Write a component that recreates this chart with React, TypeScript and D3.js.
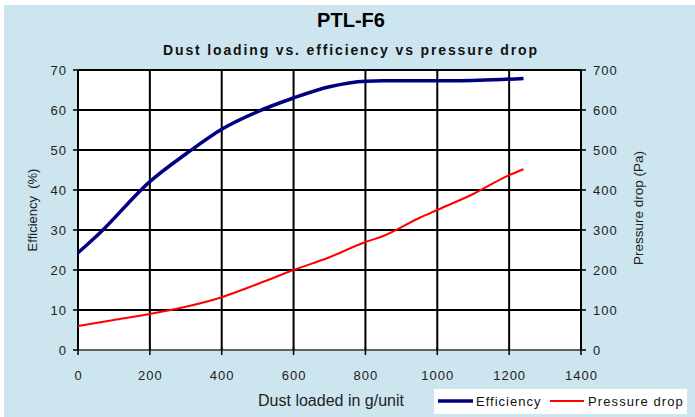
import React from "react";
import * as d3 from "d3";

const effX = [0, 60, 200, 300, 400, 500, 600, 700, 800, 850, 1050, 1240];
const effY = [24.3, 29.2, 42.1, 49.0, 55.2, 59.6, 63.0, 65.8, 67.2, 67.3, 67.3, 67.9];

const presX = [0, 100, 200, 300, 400, 500, 600, 700, 800, 850, 950, 1000, 1100, 1200, 1240];
const presY = [60, 75, 90, 108, 132, 165, 200, 232, 270, 285, 330, 350, 390, 437, 452];

const xTicks = [0, 200, 400, 600, 800, 1000, 1200, 1400];
const yLeftTicks = [0, 10, 20, 30, 40, 50, 60, 70];
const yRightTicks = [0, 100, 200, 300, 400, 500, 600, 700];

const title = "PTL-F6";
const subtitle = "Dust loading vs. efficiency vs pressure drop";
const xTitle = "Dust loaded in g/unit";
const yLeftTitle = "Efficiency  (%)";
const yRightTitle = "Pressure drop (Pa)";
const seriesNames = ["Efficiency", "Pressure drop"];

const W = 695;
const H = 417;
const FONT = "'Liberation Sans', Arial, sans-serif";

export default function App() {
  const x = d3.scaleLinear().domain([0, 1400]).range([78, 581]);
  const yL = d3.scaleLinear().domain([0, 70]).range([350, 70]);
  const yR = d3.scaleLinear().domain([0, 700]).range([350, 70]);

  const effLine = d3
    .line<number>()
    .x((d, i) => x(effX[i]))
    .y((d) => yL(d))
    .curve(d3.curveMonotoneX)(effY) as string;
  const presLine = d3
    .line<number>()
    .x((d, i) => x(presX[i]))
    .y((d) => yR(d))
    .curve(d3.curveMonotoneX)(presY) as string;

  const [x0, x1] = x.range();
  const [y0, y1] = yL.range();

  return (
    <svg
      width={W}
      height={H}
      style={{ position: "absolute", left: 0, top: 0, background: "#fff" }}
      fontFamily={FONT}
    >
      <rect x={4} y={5} width={W - 4} height={H - 5} fill="#cde5ef" />
      <text x={351} y={27} textAnchor="middle" fontSize={20} fontWeight="bold" fill="#000">
        {title}
      </text>
      <text
        x={350}
        y={55}
        textAnchor="middle"
        fontSize={14}
        fontWeight="bold"
        fill="#111"
        textLength={374}
        lengthAdjust="spacing"
      >
        {subtitle}
      </text>

      {/* plot area */}
      <rect x={x0} y={y1} width={x1 - x0} height={y0 - y1} fill="#fff" />

      {/* horizontal grid */}
      {yLeftTicks.slice(1, -1).map((t) => (
        <line key={"h" + t} x1={x0} x2={x1} y1={yL(t)} y2={yL(t)} stroke="#000" strokeWidth={2} />
      ))}
      {/* vertical grid */}
      {xTicks.slice(1, -1).map((t) => (
        <line key={"v" + t} x1={x(t)} x2={x(t)} y1={y1} y2={y0} stroke="#000" strokeWidth={2} />
      ))}
      {/* top border */}
      <line x1={x0} x2={x1} y1={y1} y2={y1} stroke="#000" strokeWidth={2} />
      {/* bottom axis */}
      <line x1={x0} x2={x1} y1={y0} y2={y0} stroke="#333" strokeWidth={1.5} />
      {/* left axis */}
      <line x1={x0} x2={x0} y1={y1} y2={y0} stroke="#000" strokeWidth={2} />
      {/* right axis */}
      <line x1={x1} x2={x1} y1={y1} y2={y0} stroke="#000" strokeWidth={2} />

      {/* x ticks */}
      {xTicks.map((t) => (
        <g key={"xt" + t}>
          <line x1={x(t)} x2={x(t)} y1={y0 - 3} y2={y0 + 5} stroke="#000" strokeWidth={1.5} />
          <text x={x(t) + 0.5} y={380} textAnchor="middle" fontSize={13} letterSpacing={1} fill="#222">
            {t}
          </text>
        </g>
      ))}
      {/* left ticks */}
      {yLeftTicks.map((t) => (
        <g key={"yl" + t}>
          <line x1={x0 - 5} x2={x0} y1={yL(t)} y2={yL(t)} stroke="#000" strokeWidth={1.5} />
          <text x={67} y={yL(t)} dy="0.35em" textAnchor="end" fontSize={13} letterSpacing={1} fill="#222">
            {t}
          </text>
        </g>
      ))}
      {/* right ticks */}
      {yRightTicks.map((t) => (
        <g key={"yr" + t}>
          <line x1={x1} x2={x1 + 5} y1={yR(t)} y2={yR(t)} stroke="#000" strokeWidth={1.5} />
          <text x={593} y={yR(t)} dy="0.35em" textAnchor="start" fontSize={13} letterSpacing={1} fill="#222">
            {t}
          </text>
        </g>
      ))}

      {/* axis titles */}
      <text x={331} y={406} textAnchor="middle" fontSize={16} fill="#222">
        {xTitle}
      </text>
      <text
        transform={`translate(37,210) rotate(-90)`}
        textAnchor="middle"
        fontSize={13}
        fill="#222"
        style={{ whiteSpace: "pre" }}
      >
        {yLeftTitle}
      </text>
      <text transform={`translate(638,208) rotate(-90)`} dy="0.35em" textAnchor="middle" fontSize={13.5} fill="#222">
        {yRightTitle}
      </text>

      {/* series */}
      <path d={presLine} fill="none" stroke="#ff0000" strokeWidth={2} />
      <path d={effLine} fill="none" stroke="#000080" strokeWidth={3.5} />

      {/* legend */}
      <rect x={434} y={389} width={253} height={25} fill="#fff" />
      <line x1={438} x2={473} y1={401} y2={401} stroke="#000080" strokeWidth={3.5} />
      <text x={476} y={405.5} fontSize={13} letterSpacing={1} fill="#111">
        {seriesNames[0]}
      </text>
      <line x1={550} x2={584} y1={401} y2={401} stroke="#ff0000" strokeWidth={2} />
      <text x={588} y={405.5} fontSize={13} letterSpacing={1.1} fill="#111">
        {seriesNames[1]}
      </text>
    </svg>
  );
}
